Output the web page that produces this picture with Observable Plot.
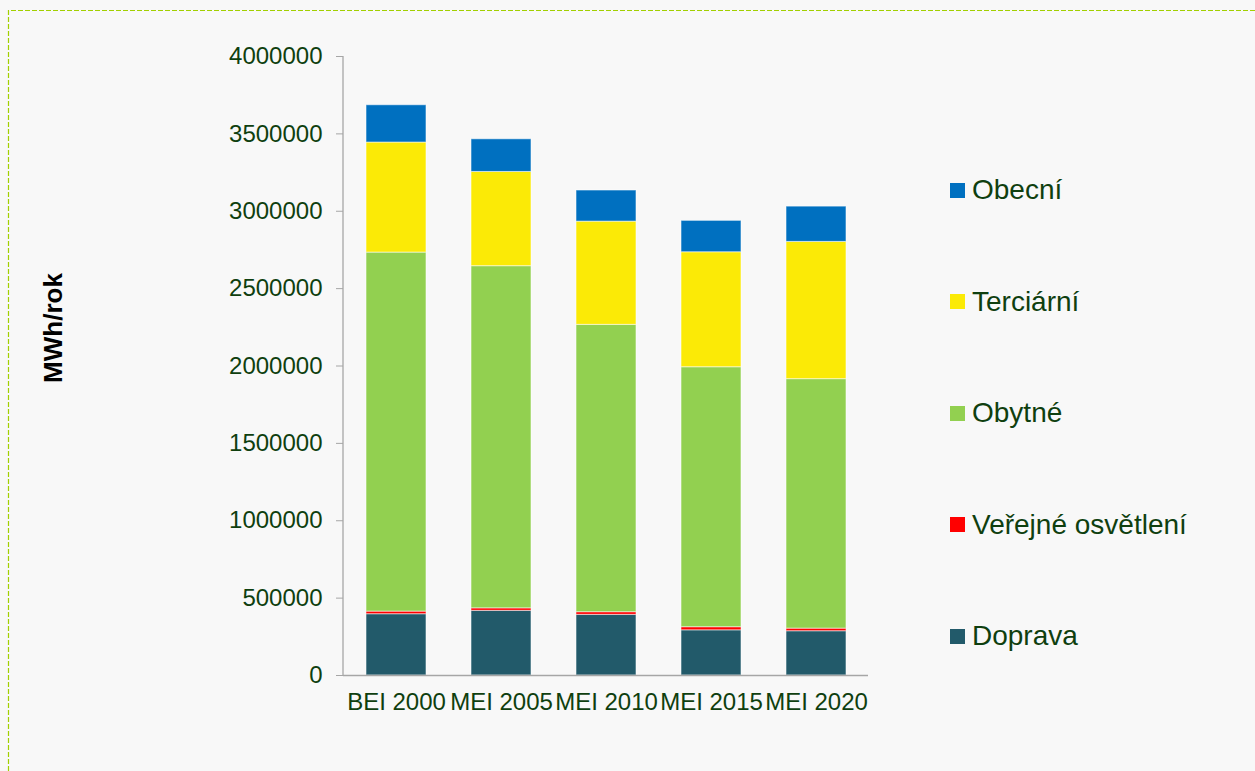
<!DOCTYPE html>
<html>
<head>
<meta charset="utf-8">
<script src="https://cdn.jsdelivr.net/npm/d3@7"></script>
<script src="https://cdn.jsdelivr.net/npm/@observablehq/plot@0.6"></script>
<style>
  html, body { margin: 0; padding: 0; background: #f8f8f8; }
  body { width: 1255px; height: 771px; position: relative; overflow: hidden; font-family: "Liberation Sans", Arial, sans-serif; }
  #border { position: absolute; left: 0; top: 0; }
  #chart { position: absolute; left: 0; top: 0; }
  #ylabel { position: absolute; left: 53px; top: 328px; transform: translate(-50%, -50%) rotate(-90deg); font-weight: bold; font-size: 26px; color: #000; white-space: nowrap; }
  .leg { position: absolute; left: 950px; display: flex; align-items: center; font-size: 28px; color: #0f3f0f; white-space: nowrap; }
  .leg .sw { width: 15px; height: 15px; margin-right: 7px; }
</style>
</head>
<body>
<svg id="border" width="1255" height="771"><path d="M8.5 771 V10.5 H1255" fill="none" stroke="#a2d000" stroke-width="1.2" stroke-dasharray="5 2"/></svg>
<div id="chart"></div>
<div id="ylabel">MWh/rok</div>
<div id="legend"></div>
<script>
const categories = ["BEI 2000", "MEI 2005", "MEI 2010", "MEI 2015", "MEI 2020"];
const seriesNames = ["Doprava", "Veřejné osvětlení", "Obytné", "Terciární", "Obecní"];
const seriesColors = ["#225a6a", "#ff0000", "#92d050", "#fbea06", "#0070c0"];
const doprava = [396000, 418000, 392000, 292000, 286000];
const verejneOsvetleni = [17000, 16000, 17000, 20000, 17000];
const obytne = [2320000, 2211000, 1857000, 1680000, 1612000];
const tercialni = [711000, 609000, 667000, 743000, 887000];
const obecni = [241000, 211000, 201000, 203000, 228000];
const yTicks = [0, 500000, 1000000, 1500000, 2000000, 2500000, 3000000, 3500000, 4000000];

const seriesValues = [doprava, verejneOsvetleni, obytne, tercialni, obecni];
const table = [];
categories.forEach((c, i) => {
  seriesNames.forEach((s, j) => {
    table.push({category: c, series: s, value: seriesValues[j][i]});
  });
});

const textColor = "#0f3f0f";
const axisGray = "#a6a6a6";

const yAxisLine = (index, scales, values, dimensions) => {
  const {marginLeft, marginTop, height, marginBottom} = dimensions;
  const line = d3.create("svg:line")
    .attr("x1", marginLeft).attr("x2", marginLeft)
    .attr("y1", marginTop).attr("y2", height - marginBottom)
    .attr("stroke", axisGray).attr("stroke-width", 1.3);
  return line.node();
};

const chart = Plot.plot({
  width: 1255,
  height: 771,
  marginLeft: 343,
  marginRight: 387,
  marginTop: 56,
  marginBottom: 96,
  style: {background: "transparent", fontFamily: "'Liberation Sans', Arial, sans-serif", fontSize: "24px", color: textColor},
  x: {domain: categories, paddingInner: 0.43, paddingOuter: 0.215, label: null},
  y: {domain: [0, 4000000], label: null},
  color: {domain: seriesNames, range: seriesColors},
  marks: [
    Plot.barY(table, {x: "category", y: "value", fill: "series", stroke: "#ffffff", strokeOpacity: 0.55, strokeWidth: 1}),
    Plot.ruleY([0], {stroke: axisGray, strokeWidth: 1.3}),
    yAxisLine,
    Plot.axisY({ticks: yTicks, tickFormat: d3.format("d"), tickSize: 7, tickPadding: 14, stroke: axisGray, fill: textColor, label: null}),
    Plot.axisX({tickSize: 0, tickPadding: 17, fill: textColor, label: null})
  ]
});
document.getElementById("chart").appendChild(chart);

const legend = document.getElementById("legend");
const legendOrder = [4, 3, 2, 1, 0];
const legendY = [190, 301.5, 413, 524.5, 636];
legendOrder.forEach((j, k) => {
  const row = document.createElement("div");
  row.className = "leg";
  row.style.top = (legendY[k] - 17) + "px";
  row.style.height = "34px";
  const sw = document.createElement("div");
  sw.className = "sw";
  sw.style.background = seriesColors[j];
  const t = document.createElement("span");
  t.textContent = seriesNames[j];
  row.appendChild(sw);
  row.appendChild(t);
  legend.appendChild(row);
});
</script>
</body>
</html>
